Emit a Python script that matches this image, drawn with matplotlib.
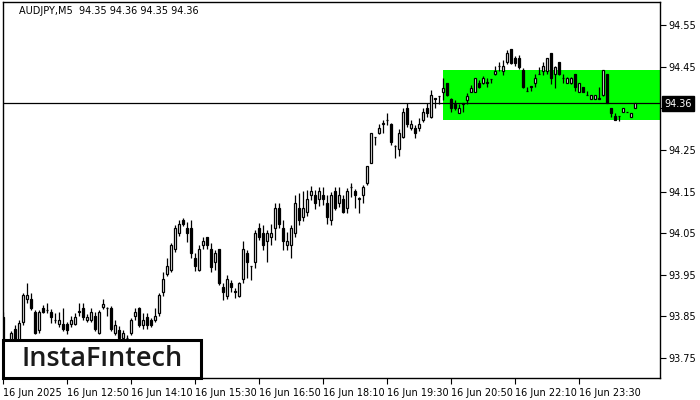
import numpy as np
import matplotlib
matplotlib.use('Agg')
import matplotlib.pyplot as plt
from matplotlib.patches import Rectangle

# AUDJPY M5 candles
opens = [
	93.849, 93.764, 93.788, 93.820, 93.793, 93.837, 93.892, 93.892, 93.861, 93.817,
	93.870, 93.866, 93.861, 93.842, 93.832, 93.832, 93.832, 93.832, 93.832, 93.862,
	93.870, 93.841, 93.841, 93.851, 93.810, 93.873, 93.871, 93.870, 93.810, 93.817,
	93.798, 93.799, 93.810, 93.851, 93.870, 93.829, 93.849, 93.841, 93.841, 93.858,
	93.909, 93.952, 93.962, 94.012, 94.051, 94.082, 94.063, 94.063, 93.991, 93.962,
	94.022, 94.041, 94.012, 93.981, 94.012, 93.921, 93.899, 93.930, 93.910, 93.899,
	93.940, 94.003, 93.972, 93.981, 94.063, 94.051, 94.031, 94.041, 94.063, 94.111,
	94.063, 94.022, 94.022, 94.051, 94.111, 94.089, 94.101, 94.142, 94.142, 94.133,
	94.142, 94.123, 94.082, 94.152, 94.123, 94.133, 94.111, 94.161, 94.152, 94.133,
	94.142, 94.171, 94.219, 94.282, 94.291, 94.313, 94.323, 94.313, 94.260, 94.253,
	94.282, 94.351, 94.303, 94.303, 94.303, 94.323, 94.351, 94.330, 94.374, 94.381,
	94.390, 94.412, 94.373, 94.361, 94.339, 94.362, 94.371, 94.390, 94.390, 94.412,
	94.412, 94.413, 94.422, 94.433, 94.452, 94.440, 94.462, 94.493, 94.472, 94.472,
	94.443, 94.393, 94.403, 94.412, 94.433, 94.440, 94.440, 94.484, 94.433, 94.462,
	94.424, 94.412, 94.412, 94.433, 94.390, 94.402, 94.383, 94.373, 94.373, 94.373,
	94.383, 94.433, 94.351, 94.332, 94.332, 94.342, 94.342, 94.330, 94.351,
]
highs = [
	93.861, 93.791, 93.815, 93.829, 93.841, 93.906, 93.930, 93.906, 93.865, 93.865,
	93.878, 93.882, 93.868, 93.858, 93.861, 93.870, 93.837, 93.851, 93.858, 93.882,
	93.882, 93.856, 93.870, 93.861, 93.865, 93.892, 93.873, 93.875, 93.841, 93.827,
	93.817, 93.805, 93.846, 93.870, 93.873, 93.858, 93.858, 93.846, 93.870, 93.906,
	93.957, 93.991, 94.027, 94.070, 94.082, 94.087, 94.077, 94.082, 94.003, 94.022,
	94.041, 94.041, 94.027, 94.010, 94.012, 93.930, 93.950, 93.938, 93.918, 93.933,
	94.031, 94.010, 93.972, 94.058, 94.075, 94.070, 94.058, 94.072, 94.123, 94.123,
	94.082, 94.053, 94.070, 94.142, 94.147, 94.152, 94.154, 94.164, 94.154, 94.161,
	94.161, 94.142, 94.149, 94.161, 94.161, 94.142, 94.159, 94.171, 94.157, 94.137,
	94.166, 94.212, 94.291, 94.282, 94.313, 94.323, 94.339, 94.315, 94.262, 94.301,
	94.351, 94.363, 94.323, 94.311, 94.327, 94.351, 94.363, 94.395, 94.374, 94.381,
	94.424, 94.412, 94.375, 94.371, 94.361, 94.363, 94.387, 94.407, 94.424, 94.419,
	94.428, 94.424, 94.422, 94.452, 94.462, 94.467, 94.491, 94.493, 94.476, 94.479,
	94.448, 94.402, 94.403, 94.433, 94.450, 94.462, 94.472, 94.484, 94.452, 94.462,
	94.433, 94.426, 94.426, 94.433, 94.412, 94.402, 94.392, 94.383, 94.383, 94.402,
	94.443, 94.433, 94.351, 94.339, 94.332, 94.351, 94.342, 94.339, 94.363,
]
lows = [
	93.769, 93.757, 93.786, 93.786, 93.786, 93.829, 93.882, 93.865, 93.808, 93.810,
	93.858, 93.858, 93.834, 93.834, 93.825, 93.815, 93.808, 93.825, 93.829, 93.851,
	93.841, 93.837, 93.837, 93.815, 93.808, 93.868, 93.851, 93.815, 93.805, 93.791,
	93.791, 93.788, 93.805, 93.841, 93.825, 93.820, 93.820, 93.825, 93.837, 93.851,
	93.899, 93.947, 93.957, 94.005, 94.043, 94.068, 94.029, 93.991, 93.959, 93.959,
	94.012, 94.012, 93.957, 93.962, 93.926, 93.890, 93.892, 93.909, 93.894, 93.897,
	93.930, 93.942, 93.938, 93.967, 94.034, 94.010, 93.981, 94.022, 94.034, 94.063,
	94.010, 94.010, 93.991, 94.041, 94.070, 94.080, 94.092, 94.130, 94.108, 94.116,
	94.118, 94.072, 94.070, 94.106, 94.113, 94.099, 94.099, 94.137, 94.111, 94.099,
	94.123, 94.166, 94.219, 94.262, 94.289, 94.291, 94.311, 94.262, 94.231, 94.236,
	94.279, 94.306, 94.299, 94.279, 94.296, 94.318, 94.330, 94.327, 94.351, 94.361,
	94.371, 94.380, 94.342, 94.347, 94.339, 94.342, 94.361, 94.390, 94.390, 94.400,
	94.409, 94.402, 94.412, 94.431, 94.440, 94.431, 94.457, 94.457, 94.452, 94.445,
	94.400, 94.392, 94.392, 94.402, 94.433, 94.431, 94.433, 94.409, 94.400, 94.431,
	94.412, 94.412, 94.410, 94.392, 94.390, 94.390, 94.382, 94.373, 94.373, 94.373,
	94.380, 94.363, 94.330, 94.323, 94.320, 94.342, 94.342, 94.330, 94.351,
]
closes = [
	93.781, 93.788, 93.810, 93.788, 93.834, 93.902, 93.902, 93.870, 93.810, 93.861,
	93.861, 93.865, 93.849, 93.841, 93.841, 93.820, 93.817, 93.841, 93.849, 93.861,
	93.849, 93.849, 93.861, 93.820, 93.861, 93.880, 93.870, 93.820, 93.829, 93.798,
	93.810, 93.798, 93.841, 93.861, 93.829, 93.841, 93.829, 93.829, 93.851, 93.902,
	93.940, 93.971, 94.022, 94.063, 94.072, 94.072, 94.051, 94.003, 93.971, 94.012,
	94.031, 94.022, 93.969, 94.003, 93.930, 93.909, 93.940, 93.921, 93.909, 93.930,
	94.012, 93.981, 93.971, 94.051, 94.041, 94.022, 94.051, 94.051, 94.111, 94.072,
	94.031, 94.031, 94.063, 94.123, 94.082, 94.111, 94.133, 94.152, 94.123, 94.152,
	94.133, 94.089, 94.142, 94.111, 94.142, 94.101, 94.152, 94.162, 94.142, 94.134,
	94.161, 94.212, 94.291, 94.281, 94.303, 94.314, 94.322, 94.270, 94.259, 94.291,
	94.342, 94.313, 94.313, 94.291, 94.313, 94.342, 94.339, 94.383, 94.373, 94.380,
	94.400, 94.383, 94.351, 94.351, 94.351, 94.361, 94.381, 94.400, 94.424, 94.402,
	94.424, 94.412, 94.421, 94.440, 94.452, 94.452, 94.484, 94.460, 94.460, 94.450,
	94.402, 94.392, 94.402, 94.424, 94.432, 94.452, 94.472, 94.424, 94.450, 94.433,
	94.423, 94.424, 94.424, 94.402, 94.412, 94.390, 94.382, 94.383, 94.383, 94.374,
	94.443, 94.363, 94.339, 94.323, 94.331, 94.351, 94.342, 94.339, 94.363,
]

time_labels = ['16 Jun 2025', '16 Jun 12:50', '16 Jun 14:10', '16 Jun 15:30', '16 Jun 16:50',
	'16 Jun 18:10', '16 Jun 19:30', '16 Jun 20:50', '16 Jun 22:10', '16 Jun 23:30']
price_ticks = [93.75, 93.85, 93.95, 94.05, 94.15, 94.25, 94.35, 94.45, 94.55]

last_price = 94.363
zone_top = 94.443
zone_bottom = 94.3225
zone_start = 109.9

fig = plt.figure(figsize=(7, 4), dpi=100)
ax = fig.add_axes([3 / 700, 22 / 400, 657 / 700, 376 / 400])

o = np.array(opens)
h = np.array(highs)
l = np.array(lows)
c = np.array(closes)
idx = np.arange(len(o))

ax.add_patch(Rectangle((zone_start, zone_bottom), 200, zone_top - zone_bottom,
	facecolor='#00ff00', edgecolor='none', zorder=1))
ax.axhline(last_price, color='black', lw=0.9, zorder=2)

ax.vlines(idx, l, h, color='black', lw=0.9, zorder=3)
up = c >= o
bw = 0.6
ax.bar(idx[up], c[up] - o[up], bottom=o[up], width=bw, facecolor='white',
	edgecolor='black', linewidth=0.9, zorder=4)
ax.bar(idx[~up], o[~up] - c[~up], bottom=c[~up], width=bw, facecolor='black',
	edgecolor='black', linewidth=0.9, zorder=4)

ax.set_xlim(0, 164.25)
ax.set_ylim(93.702, 94.606)

ax.yaxis.tick_right()
ax.set_yticks(price_ticks)
ax.set_yticklabels(['%.2f' % v for v in price_ticks])
ax.set_xticks(np.arange(len(time_labels)) * 16)
ax.set_xticklabels(time_labels, ha='left')
ax.tick_params(axis='both', direction='out', length=4, width=0.8, labelsize=7, pad=2)
ax.tick_params(axis='x', pad=3)
for sp in ax.spines.values():
	sp.set_linewidth(1.0)

# current price marker sits over the 94.35 label, as on the terminal
ax.text(1.006, last_price - 0.002, '94.36', transform=ax.get_yaxis_transform(), fontsize=7,
	color='white', va='center', ha='left', zorder=20,
	bbox=dict(boxstyle='square,pad=0.25', facecolor='black', edgecolor='black'))

ax.text(0.024, 0.99, 'AUDJPY,M5  94.35 94.36 94.35 94.36', transform=ax.transAxes,
	fontsize=7, va='top', ha='left')

# logo box
fig.patches.append(Rectangle((3 / 700, 22 / 400), 198 / 700, 38 / 400, transform=fig.transFigure,
	facecolor='white', edgecolor='black', linewidth=2.2, zorder=10))
fig.text(102 / 700, 41 / 400, 'InstaF\u0131ntech', fontsize=19.5, color='#1a1a1a',
	ha='center', va='center', family='Open Sans', fontweight='semibold', zorder=11)

fig.savefig('out.png', dpi=100)
